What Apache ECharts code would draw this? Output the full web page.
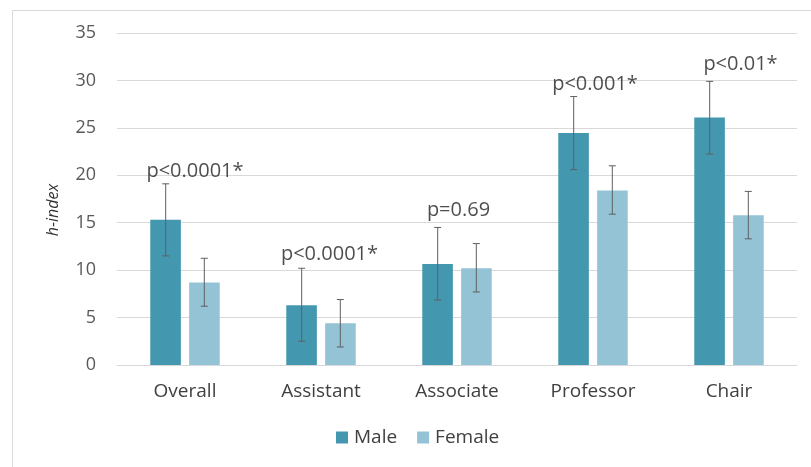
<!DOCTYPE html>
<html>
<head>
<meta charset="utf-8">
<script src="https://cdn.jsdelivr.net/npm/echarts@6/dist/echarts.min.js"></script>
<style>html,body{margin:0;padding:0;background:#fff;}#c{width:811px;height:467px;}</style>
</head>
<body>
<div id="c"></div>
<script>
const categories = ['Overall', 'Assistant', 'Associate', 'Professor', 'Chair'];
const maleMean = [15.3, 6.3, 10.65, 24.45, 26.1];
const maleLow = [11.5, 2.5, 6.85, 20.6, 22.25];
const maleHigh = [19.1, 10.2, 14.5, 28.3, 29.9];
const femaleMean = [8.7, 4.4, 10.2, 18.4, 15.8];
const femaleLow = [6.2, 1.9, 7.7, 15.9, 13.3];
const femaleHigh = [11.25, 6.9, 12.8, 21.0, 18.3];
const pLabels = ['p<0.0001*', 'p<0.0001*', 'p=0.69', 'p<0.001*', 'p<0.01*'];
const yTicks = [0, 5, 10, 15, 20, 25, 30, 35];

const FONT = '"Open Sans", Lato, sans-serif';
const MALE_COLOR = '#4398B0';
const FEMALE_COLOR = '#93C3D5';
const labelOffsets = [[10, -3], [8.5, -4], [1.5, -7], [2, -2], [11.5, -7]];

const chart = echarts.init(document.getElementById('c'), null, {renderer: 'canvas'});

function errorSeries(lowArr, highArr, shift) {
  return {
    type: 'custom',
    z: 10,
    silent: true,
    data: categories.map((c, i) => [i, lowArr[i], highArr[i]]),
    renderItem: function (params, api) {
      const bw = api.size([1, 0])[0];
      const xc = api.coord([api.value(0), 0])[0] + shift * bw;
      const lo = api.coord([api.value(0), api.value(1)])[1];
      const hi = api.coord([api.value(0), api.value(2)])[1];
      const cap = 3.5;
      const style = {stroke: '#5f5f5f', lineWidth: 1};
      return {
        type: 'group',
        children: [
          {type: 'line', shape: {x1: xc, y1: lo, x2: xc, y2: hi}, style: style},
          {type: 'line', shape: {x1: xc - cap, y1: lo, x2: xc + cap, y2: lo}, style: style},
          {type: 'line', shape: {x1: xc - cap, y1: hi, x2: xc + cap, y2: hi}, style: style}
        ]
      };
    }
  };
}

const option = {
  animation: false,
  backgroundColor: '#fff',
  textStyle: {fontFamily: FONT},
  graphic: [{
    type: 'rect', left: 10, top: 8, z: -10,
    shape: {width: 900, height: 600},
    style: {fill: 'none', stroke: '#d9d9d9', lineWidth: 1}
  }],
  grid: {left: 117, right: 14, top: 33, bottom: 102},
  legend: {
    top: 428,
    left: 336,
    padding: 0,
    itemWidth: 12, itemHeight: 12, itemGap: 20,
    icon: 'rect',
    textStyle: {fontSize: 19, color: '#404040', fontFamily: FONT, padding: [0, 0, 0, 1]},
    data: ['Male', 'Female']
  },
  xAxis: {
    type: 'category',
    data: categories,
    axisLine: {lineStyle: {color: '#d9d9d9'}},
    axisTick: {show: false},
    axisLabel: {fontSize: 19, color: '#404040', margin: 17, fontFamily: FONT}
  },
  yAxis: {
    type: 'value',
    min: yTicks[0], max: yTicks[yTicks.length - 1], interval: 5,
    name: 'h-index',
    nameLocation: 'middle',
    nameGap: 56,
    nameTextStyle: {fontSize: 16, fontStyle: 'italic', color: '#333333', fontFamily: FONT, padding: [0, 22, 0, 0]},
    axisLine: {show: false},
    axisTick: {show: false},
    axisLabel: {fontSize: 18, color: '#595959', margin: 21, fontFamily: FONT},
    splitLine: {lineStyle: {color: '#d9d9d9'}}
  },
  series: [
    {
      name: 'Male', type: 'bar', data: maleMean,
      barWidth: '22.5%', barGap: '27%',
      itemStyle: {color: MALE_COLOR}
    },
    {
      name: 'Female', type: 'bar', data: femaleMean,
      barWidth: '22.5%', barGap: '27%',
      itemStyle: {color: FEMALE_COLOR}
    },
    errorSeries(maleLow, maleHigh, -0.142),
    errorSeries(femaleLow, femaleHigh, 0.142),
    {
      type: 'scatter',
      symbolSize: 0,
      silent: true,
      z: 20,
      data: categories.map((c, i) => ({
        value: [i, maleHigh[i]],
        label: {offset: labelOffsets[i]}
      })),
      label: {
        show: true,
        position: 'top',
        distance: 0,
        fontSize: 20,
        color: '#1f1f1f',
        fontFamily: FONT,
        formatter: p => pLabels[p.dataIndex]
      }
    }
  ]
};
chart.setOption(option);
</script>
</body>
</html>
